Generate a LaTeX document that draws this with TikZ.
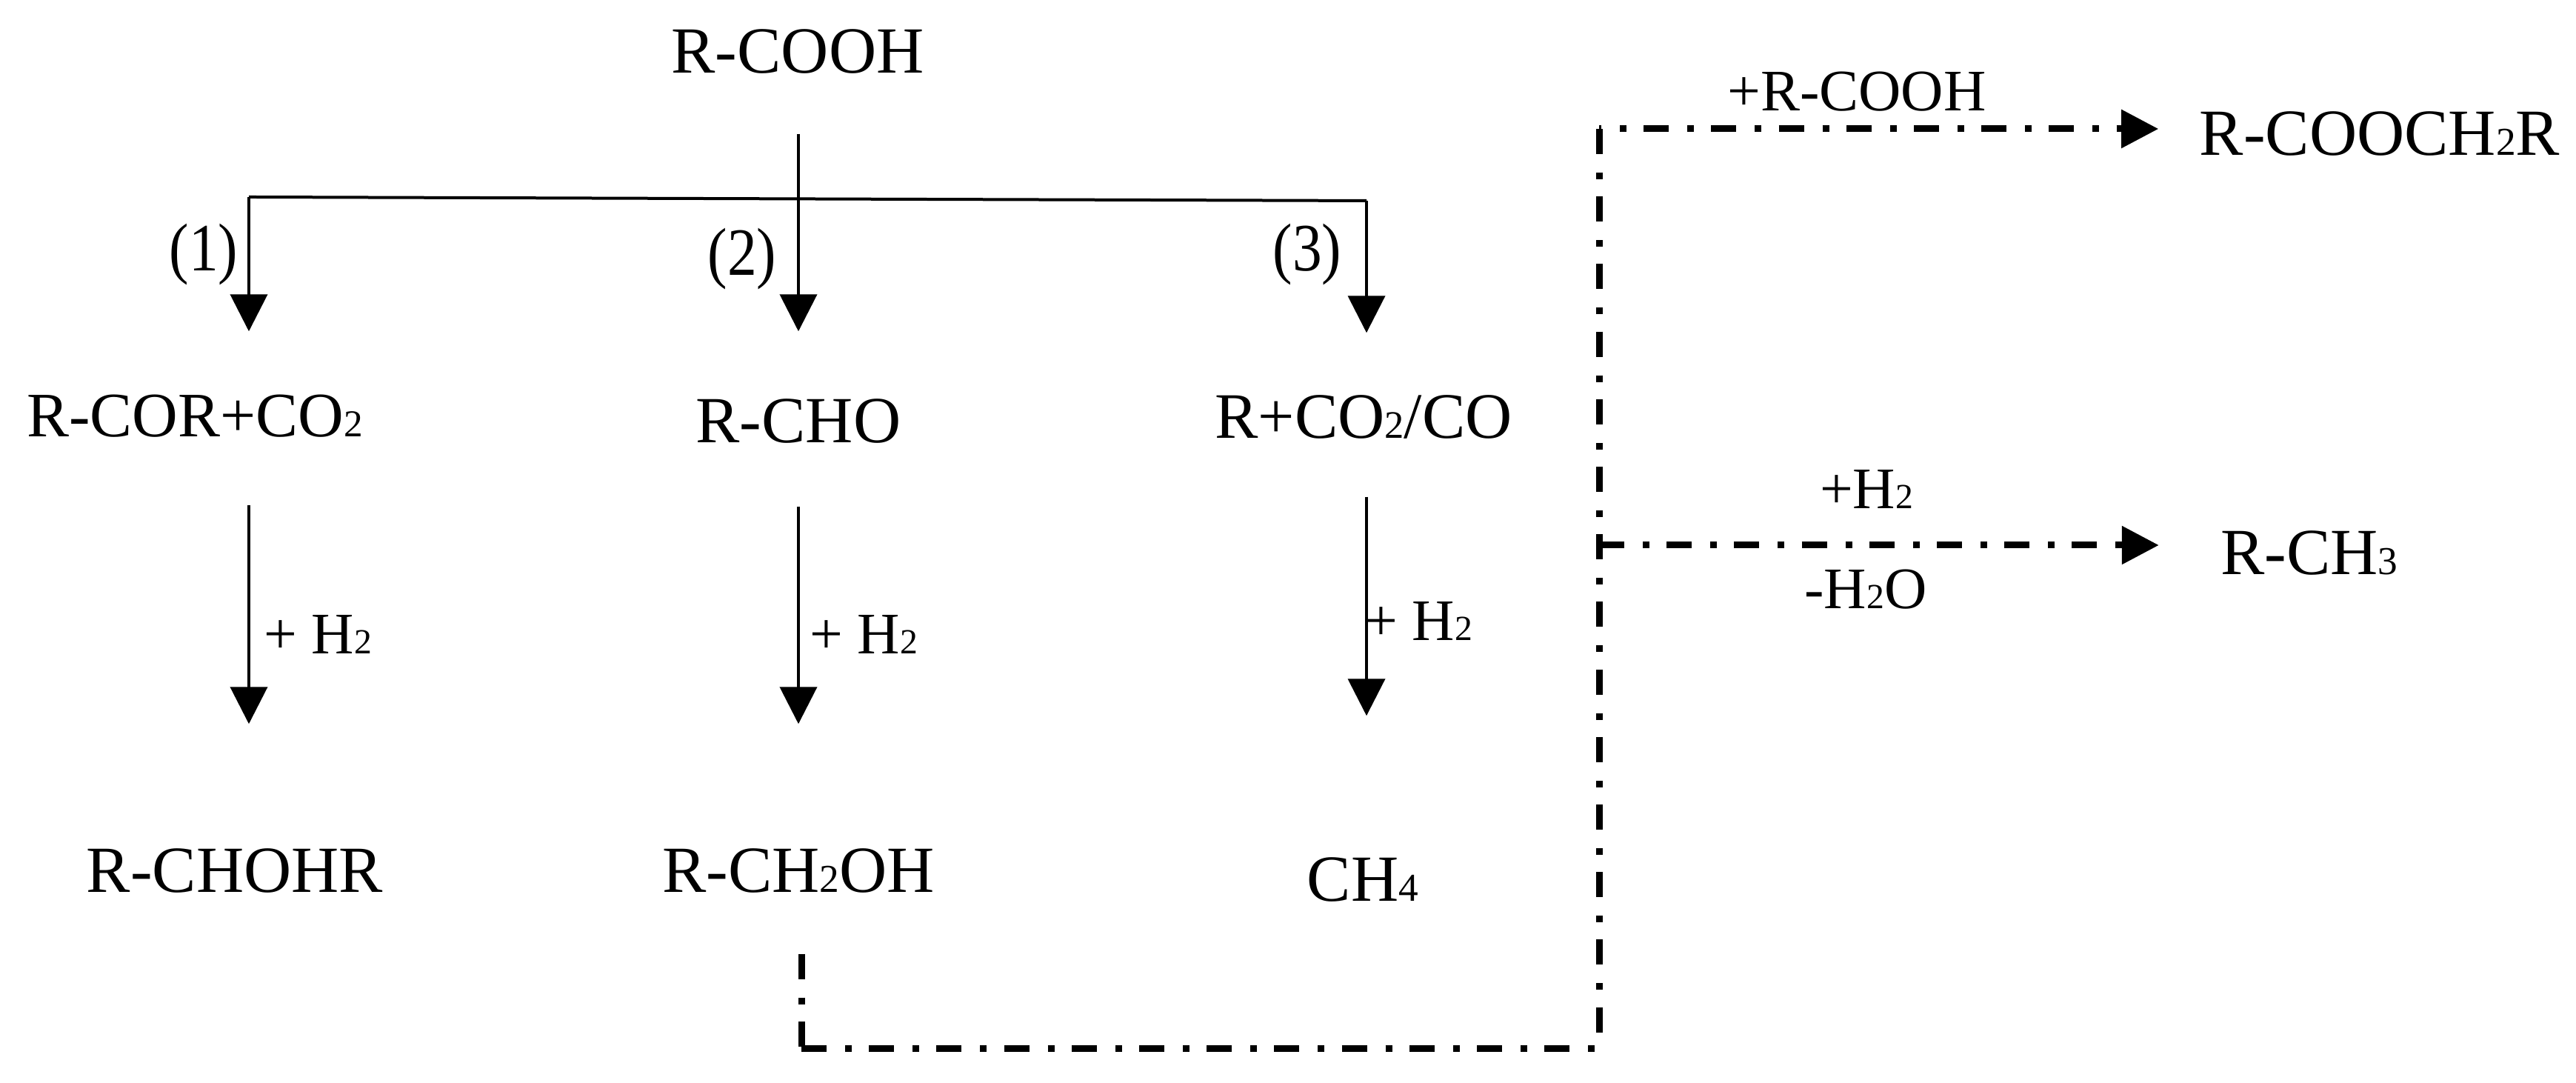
\documentclass[tikz,border=0pt]{standalone}
\usepackage{fontspec}
\usepackage{tikz}
\usetikzlibrary{arrows.meta}
\setmainfont{Liberation Serif}
\newcommand{\subn}[1]{\scalebox{0.6}{#1}}
\newcommand{\tall}[1]{\scalebox{1}[1.15]{#1}}
\tikzset{
  species/.style={anchor=base,inner sep=0pt,text height=0.62cm,text depth=0.02cm,font=\fontsize{25.3}{30}\selectfont},
  reagent/.style={anchor=base,inner sep=0pt,font=\fontsize{22.6}{27}\selectfont},
  flow/.style={line width=0.04cm,-{Triangle[length=0.5cm,width=0.5cm]}},
  side/.style={line width=0.09cm,dash pattern=on 0.34cm off 0.25cm on 0.09cm off 0.232cm},
  sidetip/.style={side,-{Triangle[length=0.5cm,width=0.5cm]}}
}
\begin{document}
\begin{tikzpicture}
\useasboundingbox (0,0) rectangle (34.78,14.62);

\node[species] (rcooh) at (10.77,13.63) {R-COOH};
\node[species,font=\fontsize{24.3}{30}\selectfont] (rcor) at (2.63,8.72) {R-COR+CO\subn{2}};
\node[species] (rcho) at (10.78,8.64) {R-CHO};
\node[species,font=\fontsize{24.9}{30}\selectfont] (rco) at (18.41,8.70) {R+CO\subn{2}/CO};
\node[species] (rchohr) at (3.17,2.57) {R-CHOHR};
\node[species] (rchoh) at (10.78,2.57) {R-CH\subn{2}OH};
\node[species] (chfour) at (18.40,2.45) {CH\subn{4}};
\node[species] (rester) at (32.13,12.52) {R-COOCH\subn{2}R};
\node[species] (rmethyl) at (31.18,6.86) {R-CH\subn{3}};

\node[reagent] (one) at (2.75,10.96) {\tall{(1)}};
\node[reagent] (two) at (10.02,10.90) {\tall{(2)}};
\node[reagent] (three) at (17.65,10.96) {\tall{(3)}};
\node[reagent] (hone) at (4.29,5.79) {+ H\subn{2}};
\node[reagent] (htwo) at (11.66,5.79) {+ H\subn{2}};
\node[reagent] (hthree) at (19.15,5.97) {+ H\subn{2}};
\node[reagent] (acid) at (25.07,13.12) {+R-COOH};
\node[reagent] (hplus) at (25.20,7.75) {+H\subn{2}};
\node[reagent] (water) at (25.19,6.40) {-H\subn{2}O};

\coordinate (branchl) at (3.36,11.96);
\coordinate (branchr) at (18.45,11.91);
\coordinate (lowl) at (10.82,0.46);
\coordinate (low) at (21.59,0.46);
\coordinate (high) at (21.59,12.88);
\coordinate (joint) at (21.59,7.26);

\draw[line width=0.04cm] (branchl) -- (branchr);
\draw[flow,shorten <=0.79cm,shorten >=0.88cm] (rcooh.south -| rcho) -- (rcho.north);
\draw[flow,shorten >=0.80cm] (branchl) -- (branchl |- rcor.north);
\draw[flow,shorten >=0.80cm] (branchr) -- (branchr |- rco.north);

\draw[flow,shorten <=0.89cm,shorten >=1.65cm] (branchl |- rcor.south) -- (branchl |- rchohr.north);
\draw[flow,shorten <=0.83cm,shorten >=1.65cm] (rcho.south) -- (rcho.south |- rchoh.north);
\draw[flow,shorten <=0.76cm,shorten >=1.88cm] (branchr |- rco.south) -- (branchr |- chfour.north);

\draw[side,shorten <=0.80cm] (lowl |- rchoh.south) -- (lowl);
\draw[side] (lowl) -- (low);
\draw[side] (high) -- (low);
\draw[sidetip,dash phase=0.31cm,shorten >=0.55cm] (high) -- (high -| rester.west);
\draw[sidetip,shorten >=0.83cm] (joint) -- (joint -| rmethyl.west);
\end{tikzpicture}
\end{document}
